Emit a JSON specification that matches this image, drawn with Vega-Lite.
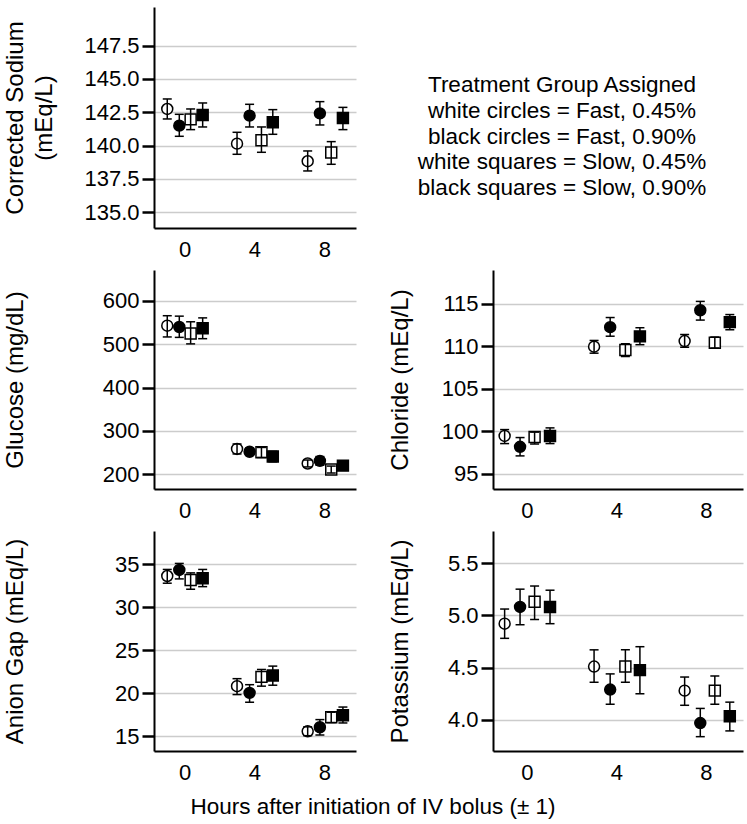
{
  "$schema": "https://vega.github.io/schema/vega-lite/v6.json",
  "padding": {"left": 3, "top": 7, "right": 2, "bottom": 0},
  "background": "white",
  "datasets": {
    "d": [
      {"p": "Na", "g": "Fast, 0.45%", "t": 0, "x": -1.0, "v": 142.75, "lo": 142.0, "hi": 143.5},
      {"p": "Na", "g": "Fast, 0.90%", "t": 0, "x": -0.31, "v": 141.5, "lo": 140.7, "hi": 142.35},
      {"p": "Na", "g": "Slow, 0.45%", "t": 0, "x": 0.34, "v": 141.97, "lo": 141.2, "hi": 142.75},
      {"p": "Na", "g": "Slow, 0.90%", "t": 0, "x": 1.03, "v": 142.3, "lo": 141.4, "hi": 143.2},
      {"p": "Na", "g": "Fast, 0.45%", "t": 4, "x": 3.0, "v": 140.15, "lo": 139.35, "hi": 141.0},
      {"p": "Na", "g": "Fast, 0.90%", "t": 4, "x": 3.72, "v": 142.25, "lo": 141.4, "hi": 143.1},
      {"p": "Na", "g": "Slow, 0.45%", "t": 4, "x": 4.4, "v": 140.4, "lo": 139.5, "hi": 141.4},
      {"p": "Na", "g": "Slow, 0.90%", "t": 4, "x": 5.05, "v": 141.75, "lo": 140.85, "hi": 142.7},
      {"p": "Na", "g": "Fast, 0.45%", "t": 8, "x": 7.05, "v": 138.83, "lo": 138.1, "hi": 139.6},
      {"p": "Na", "g": "Fast, 0.90%", "t": 8, "x": 7.75, "v": 142.42, "lo": 141.55, "hi": 143.3},
      {"p": "Na", "g": "Slow, 0.45%", "t": 8, "x": 8.4, "v": 139.48, "lo": 138.6, "hi": 140.3},
      {"p": "Na", "g": "Slow, 0.90%", "t": 8, "x": 9.07, "v": 142.07, "lo": 141.2, "hi": 142.87},

      {"p": "Glu", "g": "Fast, 0.45%", "t": 0, "x": -1.0, "v": 543, "lo": 517, "hi": 566},
      {"p": "Glu", "g": "Fast, 0.90%", "t": 0, "x": -0.31, "v": 540, "lo": 516, "hi": 565},
      {"p": "Glu", "g": "Slow, 0.45%", "t": 0, "x": 0.34, "v": 525, "lo": 501, "hi": 552},
      {"p": "Glu", "g": "Slow, 0.90%", "t": 0, "x": 1.03, "v": 537, "lo": 513, "hi": 561},
      {"p": "Glu", "g": "Fast, 0.45%", "t": 4, "x": 3.0, "v": 258.5, "lo": 247, "hi": 270},
      {"p": "Glu", "g": "Fast, 0.90%", "t": 4, "x": 3.72, "v": 252, "lo": 244, "hi": 260},
      {"p": "Glu", "g": "Slow, 0.45%", "t": 4, "x": 4.4, "v": 251, "lo": 239, "hi": 262},
      {"p": "Glu", "g": "Slow, 0.90%", "t": 4, "x": 5.05, "v": 241, "lo": 229, "hi": 253},
      {"p": "Glu", "g": "Fast, 0.45%", "t": 8, "x": 7.05, "v": 225, "lo": 217, "hi": 233},
      {"p": "Glu", "g": "Fast, 0.90%", "t": 8, "x": 7.75, "v": 231, "lo": 221, "hi": 241},
      {"p": "Glu", "g": "Slow, 0.45%", "t": 8, "x": 8.4, "v": 211, "lo": 203, "hi": 219},
      {"p": "Glu", "g": "Slow, 0.90%", "t": 8, "x": 9.07, "v": 220, "lo": 211, "hi": 229},

      {"p": "Cl", "g": "Fast, 0.45%", "t": 0, "x": -1.0, "v": 99.45, "lo": 98.55, "hi": 100.2},
      {"p": "Cl", "g": "Fast, 0.90%", "t": 0, "x": -0.31, "v": 98.17, "lo": 97.1, "hi": 99.26},
      {"p": "Cl", "g": "Slow, 0.45%", "t": 0, "x": 0.34, "v": 99.33, "lo": 98.5, "hi": 99.9},
      {"p": "Cl", "g": "Slow, 0.90%", "t": 0, "x": 1.03, "v": 99.45, "lo": 98.55, "hi": 100.4},
      {"p": "Cl", "g": "Fast, 0.45%", "t": 4, "x": 3.0, "v": 109.97, "lo": 109.2, "hi": 110.7},
      {"p": "Cl", "g": "Fast, 0.90%", "t": 4, "x": 3.72, "v": 112.27, "lo": 111.2, "hi": 113.4},
      {"p": "Cl", "g": "Slow, 0.45%", "t": 4, "x": 4.4, "v": 109.58, "lo": 108.8, "hi": 110.3},
      {"p": "Cl", "g": "Slow, 0.90%", "t": 4, "x": 5.05, "v": 111.18, "lo": 110.2, "hi": 112.2},
      {"p": "Cl", "g": "Fast, 0.45%", "t": 8, "x": 7.05, "v": 110.63, "lo": 109.9, "hi": 111.4},
      {"p": "Cl", "g": "Fast, 0.90%", "t": 8, "x": 7.75, "v": 114.26, "lo": 113.1, "hi": 115.3},
      {"p": "Cl", "g": "Slow, 0.45%", "t": 8, "x": 8.4, "v": 110.44, "lo": 109.8, "hi": 111.1},
      {"p": "Cl", "g": "Slow, 0.90%", "t": 8, "x": 9.07, "v": 112.86, "lo": 111.96, "hi": 113.75},

      {"p": "AG", "g": "Fast, 0.45%", "t": 0, "x": -1.0, "v": 33.64, "lo": 32.8, "hi": 34.4},
      {"p": "AG", "g": "Fast, 0.90%", "t": 0, "x": -0.31, "v": 34.34, "lo": 33.3, "hi": 35.1},
      {"p": "AG", "g": "Slow, 0.45%", "t": 0, "x": 0.34, "v": 33.17, "lo": 32.1, "hi": 34.0},
      {"p": "AG", "g": "Slow, 0.90%", "t": 0, "x": 1.03, "v": 33.37, "lo": 32.4, "hi": 34.4},
      {"p": "AG", "g": "Fast, 0.45%", "t": 4, "x": 3.0, "v": 20.83, "lo": 19.85, "hi": 21.7},
      {"p": "AG", "g": "Fast, 0.90%", "t": 4, "x": 3.72, "v": 20.05, "lo": 18.96, "hi": 21.0},
      {"p": "AG", "g": "Slow, 0.45%", "t": 4, "x": 4.4, "v": 21.91, "lo": 20.83, "hi": 22.77},
      {"p": "AG", "g": "Slow, 0.90%", "t": 4, "x": 5.05, "v": 22.07, "lo": 20.94, "hi": 23.16},
      {"p": "AG", "g": "Fast, 0.45%", "t": 8, "x": 7.05, "v": 15.58, "lo": 15.07, "hi": 16.1},
      {"p": "AG", "g": "Fast, 0.90%", "t": 8, "x": 7.75, "v": 16.05, "lo": 15.15, "hi": 16.94},
      {"p": "AG", "g": "Slow, 0.45%", "t": 8, "x": 8.4, "v": 17.22, "lo": 16.6, "hi": 17.8},
      {"p": "AG", "g": "Slow, 0.90%", "t": 8, "x": 9.07, "v": 17.45, "lo": 16.55, "hi": 18.4},

      {"p": "K", "g": "Fast, 0.45%", "t": 0, "x": -1.0, "v": 4.92, "lo": 4.78, "hi": 5.06},
      {"p": "K", "g": "Fast, 0.90%", "t": 0, "x": -0.31, "v": 5.08, "lo": 4.91, "hi": 5.25},
      {"p": "K", "g": "Slow, 0.45%", "t": 0, "x": 0.34, "v": 5.13, "lo": 4.96, "hi": 5.28},
      {"p": "K", "g": "Slow, 0.90%", "t": 0, "x": 1.03, "v": 5.08, "lo": 4.92, "hi": 5.24},
      {"p": "K", "g": "Fast, 0.45%", "t": 4, "x": 3.0, "v": 4.51, "lo": 4.36, "hi": 4.67},
      {"p": "K", "g": "Fast, 0.90%", "t": 4, "x": 3.72, "v": 4.29, "lo": 4.15, "hi": 4.44},
      {"p": "K", "g": "Slow, 0.45%", "t": 4, "x": 4.4, "v": 4.51, "lo": 4.36, "hi": 4.67},
      {"p": "K", "g": "Slow, 0.90%", "t": 4, "x": 5.05, "v": 4.476, "lo": 4.25, "hi": 4.7},
      {"p": "K", "g": "Fast, 0.45%", "t": 8, "x": 7.05, "v": 4.28, "lo": 4.14, "hi": 4.41},
      {"p": "K", "g": "Fast, 0.90%", "t": 8, "x": 7.75, "v": 3.97, "lo": 3.84, "hi": 4.11},
      {"p": "K", "g": "Slow, 0.45%", "t": 8, "x": 8.4, "v": 4.28, "lo": 4.15, "hi": 4.42},
      {"p": "K", "g": "Slow, 0.90%", "t": 8, "x": 9.07, "v": 4.035, "lo": 3.895, "hi": 4.17}
    ],
    "legend": [
      {"col": 0, "row": 0, "label": "Treatment Group Assigned"},
      {"col": 0, "row": 1, "label": "white circles = Fast, 0.45%"},
      {"col": 0, "row": 2, "label": "black circles = Fast, 0.90%"},
      {"col": 0, "row": 3, "label": "white squares = Slow, 0.45%"},
      {"col": 0, "row": 4, "label": "black squares = Slow, 0.90%"}
    ]
  },
  "title": {
    "text": "Hours after initiation of IV bolus (± 1)",
    "orient": "bottom",
    "anchor": "middle",
    "font": "Liberation Sans",
    "fontSize": 22.5,
    "fontWeight": "normal",
    "color": "black",
    "offset": 13
  },
  "spacing": 10,
  "vconcat": [
    {
      "spacing": 32,
      "hconcat": [
        {
          "width": 202, "height": 221,
          "data": {"name": "d"},
          "transform": [{"filter": "datum.p === 'Na'"}],
          "encoding": {
            "x": {"field": "x", "type": "quantitative", "scale": {"domain": [-1.76, 9.82], "nice": false, "zero": false},
                  "axis": {"values": [0, 4, 8], "ticks": false, "title": null, "labelPadding": 11, "grid": false, "domainColor": "black", "domainWidth": 2}}
          },
          "layer": [
            {
              "mark": {"type": "point", "filled": true, "stroke": "black", "strokeWidth": 1.5, "size": 120, "opacity": 1},
              "encoding": {
                "y": {"field": "v", "type": "quantitative", "scale": {"domain": [133.82, 150.4], "nice": false, "zero": false},
                      "axis": {"title": ["Corrected Sodium", "(mEq/L)"], "titleLineHeight": 29, "values": [135, 137.5, 140, 142.5, 145, 147.5], "format": ".1f", "titleX": -151, "titleBaseline": "top", "titleAngle": 270, "ticks": true, "tickSize": 12, "tickWidth": 2.5, "tickColor": "black", "tickOpacity": 1}},
                "shape": {"field": "g", "type": "nominal", "scale": {"domain": ["Fast, 0.45%", "Fast, 0.90%", "Slow, 0.45%", "Slow, 0.90%"], "range": ["circle", "circle", "square", "square"]}, "legend": null},
                "fill": {"field": "g", "type": "nominal", "scale": {"domain": ["Fast, 0.45%", "Fast, 0.90%", "Slow, 0.45%", "Slow, 0.90%"], "range": ["white", "black", "white", "black"]}, "legend": null}
              }
            },
            {"mark": {"type": "rule", "color": "black", "strokeWidth": 1.5}, "encoding": {"y": {"field": "lo", "type": "quantitative"}, "y2": {"field": "hi"}}},
            {"mark": {"type": "tick", "orient": "horizontal", "color": "black", "size": 9, "thickness": 1.5, "opacity": 1}, "encoding": {"y": {"field": "lo", "type": "quantitative"}}},
            {"mark": {"type": "tick", "orient": "horizontal", "color": "black", "size": 9, "thickness": 1.5, "opacity": 1}, "encoding": {"y": {"field": "hi", "type": "quantitative"}}}
          ]
        },
        {
          "width": 348, "height": 221,
          "data": {"name": "legend"},
          "mark": {"type": "text", "font": "Liberation Sans", "fontSize": 22.5, "align": "center", "baseline": "middle", "color": "black"},
          "encoding": {
            "x": {"field": "col", "type": "quantitative", "scale": {"domain": [-1, 1], "nice": false, "zero": false}, "axis": null},
            "y": {"field": "row", "type": "quantitative", "scale": {"domain": [-3.02, 5.54], "nice": false, "zero": false, "reverse": true}, "axis": null},
            "text": {"field": "label", "type": "nominal"}
          }
        }
      ]
    },
    {
      "spacing": 32,
      "hconcat": [
        {
          "width": 202, "height": 219,
          "data": {"name": "d"},
          "transform": [{"filter": "datum.p === 'Glu'"}],
          "encoding": {
            "x": {"field": "x", "type": "quantitative", "scale": {"domain": [-1.76, 9.82], "nice": false, "zero": false},
                  "axis": {"values": [0, 4, 8], "ticks": false, "title": null, "labelPadding": 11, "grid": false, "domainColor": "black", "domainWidth": 2}}
          },
          "layer": [
            {
              "mark": {"type": "point", "filled": true, "stroke": "black", "strokeWidth": 1.5, "size": 120, "opacity": 1},
              "encoding": {
                "y": {"field": "v", "type": "quantitative", "scale": {"domain": [166.1, 671.5], "nice": false, "zero": false},
                      "axis": {"title": "Glucose (mg/dL)", "values": [200, 300, 400, 500, 600], "titleX": -151, "titleBaseline": "top", "titleAngle": 270, "ticks": true, "tickSize": 12, "tickWidth": 2.5, "tickColor": "black", "tickOpacity": 1}},
                "shape": {"field": "g", "type": "nominal", "scale": {"domain": ["Fast, 0.45%", "Fast, 0.90%", "Slow, 0.45%", "Slow, 0.90%"], "range": ["circle", "circle", "square", "square"]}, "legend": null},
                "fill": {"field": "g", "type": "nominal", "scale": {"domain": ["Fast, 0.45%", "Fast, 0.90%", "Slow, 0.45%", "Slow, 0.90%"], "range": ["white", "black", "white", "black"]}, "legend": null}
              }
            },
            {"mark": {"type": "rule", "color": "black", "strokeWidth": 1.5}, "encoding": {"y": {"field": "lo", "type": "quantitative"}, "y2": {"field": "hi"}}},
            {"mark": {"type": "tick", "orient": "horizontal", "color": "black", "size": 9, "thickness": 1.5, "opacity": 1}, "encoding": {"y": {"field": "lo", "type": "quantitative"}}},
            {"mark": {"type": "tick", "orient": "horizontal", "color": "black", "size": 9, "thickness": 1.5, "opacity": 1}, "encoding": {"y": {"field": "hi", "type": "quantitative"}}}
          ]
        },
        {
          "width": 250, "height": 219,
          "data": {"name": "d"},
          "transform": [{"filter": "datum.p === 'Cl'"}],
          "encoding": {
            "x": {"field": "x", "type": "quantitative", "scale": {"domain": [-1.52, 9.66], "nice": false, "zero": false},
                  "axis": {"values": [0, 4, 8], "ticks": false, "title": null, "labelPadding": 11, "grid": false, "domainColor": "black", "domainWidth": 2}}
          },
          "layer": [
            {
              "mark": {"type": "point", "filled": true, "stroke": "black", "strokeWidth": 1.5, "size": 120, "opacity": 1},
              "encoding": {
                "y": {"field": "v", "type": "quantitative", "scale": {"domain": [93.2, 119.0], "nice": false, "zero": false},
                      "axis": {"title": "Chloride (mEq/L)", "values": [95, 100, 105, 110, 115], "titleX": -105, "titleBaseline": "top", "titleAngle": 270, "ticks": true, "tickSize": 12, "tickWidth": 2.5, "tickColor": "black", "tickOpacity": 1}},
                "shape": {"field": "g", "type": "nominal", "scale": {"domain": ["Fast, 0.45%", "Fast, 0.90%", "Slow, 0.45%", "Slow, 0.90%"], "range": ["circle", "circle", "square", "square"]}, "legend": null},
                "fill": {"field": "g", "type": "nominal", "scale": {"domain": ["Fast, 0.45%", "Fast, 0.90%", "Slow, 0.45%", "Slow, 0.90%"], "range": ["white", "black", "white", "black"]}, "legend": null}
              }
            },
            {"mark": {"type": "rule", "color": "black", "strokeWidth": 1.5}, "encoding": {"y": {"field": "lo", "type": "quantitative"}, "y2": {"field": "hi"}}},
            {"mark": {"type": "tick", "orient": "horizontal", "color": "black", "size": 9, "thickness": 1.5, "opacity": 1}, "encoding": {"y": {"field": "lo", "type": "quantitative"}}},
            {"mark": {"type": "tick", "orient": "horizontal", "color": "black", "size": 9, "thickness": 1.5, "opacity": 1}, "encoding": {"y": {"field": "hi", "type": "quantitative"}}}
          ]
        }
      ]
    },
    {
      "spacing": 32,
      "hconcat": [
        {
          "width": 202, "height": 220,
          "data": {"name": "d"},
          "transform": [{"filter": "datum.p === 'AG'"}],
          "encoding": {
            "x": {"field": "x", "type": "quantitative", "scale": {"domain": [-1.76, 9.82], "nice": false, "zero": false},
                  "axis": {"values": [0, 4, 8], "ticks": false, "title": null, "labelPadding": 11, "grid": false, "domainColor": "black", "domainWidth": 2}}
          },
          "layer": [
            {
              "mark": {"type": "point", "filled": true, "stroke": "black", "strokeWidth": 1.5, "size": 120, "opacity": 1},
              "encoding": {
                "y": {"field": "v", "type": "quantitative", "scale": {"domain": [13.29, 38.87], "nice": false, "zero": false},
                      "axis": {"title": "Anion Gap (mEq/L)", "values": [15, 20, 25, 30, 35], "titleX": -151, "titleBaseline": "top", "titleAngle": 270, "ticks": true, "tickSize": 12, "tickWidth": 2.5, "tickColor": "black", "tickOpacity": 1}},
                "shape": {"field": "g", "type": "nominal", "scale": {"domain": ["Fast, 0.45%", "Fast, 0.90%", "Slow, 0.45%", "Slow, 0.90%"], "range": ["circle", "circle", "square", "square"]}, "legend": null},
                "fill": {"field": "g", "type": "nominal", "scale": {"domain": ["Fast, 0.45%", "Fast, 0.90%", "Slow, 0.45%", "Slow, 0.90%"], "range": ["white", "black", "white", "black"]}, "legend": null}
              }
            },
            {"mark": {"type": "rule", "color": "black", "strokeWidth": 1.5}, "encoding": {"y": {"field": "lo", "type": "quantitative"}, "y2": {"field": "hi"}}},
            {"mark": {"type": "tick", "orient": "horizontal", "color": "black", "size": 9, "thickness": 1.5, "opacity": 1}, "encoding": {"y": {"field": "lo", "type": "quantitative"}}},
            {"mark": {"type": "tick", "orient": "horizontal", "color": "black", "size": 9, "thickness": 1.5, "opacity": 1}, "encoding": {"y": {"field": "hi", "type": "quantitative"}}}
          ]
        },
        {
          "width": 250, "height": 220,
          "data": {"name": "d"},
          "transform": [{"filter": "datum.p === 'K'"}],
          "encoding": {
            "x": {"field": "x", "type": "quantitative", "scale": {"domain": [-1.52, 9.66], "nice": false, "zero": false},
                  "axis": {"values": [0, 4, 8], "ticks": false, "title": null, "labelPadding": 11, "grid": false, "domainColor": "black", "domainWidth": 2}}
          },
          "layer": [
            {
              "mark": {"type": "point", "filled": true, "stroke": "black", "strokeWidth": 1.5, "size": 120, "opacity": 1},
              "encoding": {
                "y": {"field": "v", "type": "quantitative", "scale": {"domain": [3.703, 5.806], "nice": false, "zero": false},
                      "axis": {"title": "Potassium (mEq/L)", "values": [4.0, 4.5, 5.0, 5.5], "format": ".1f", "titleX": -105, "titleBaseline": "top", "titleAngle": 270, "ticks": true, "tickSize": 12, "tickWidth": 2.5, "tickColor": "black", "tickOpacity": 1}},
                "shape": {"field": "g", "type": "nominal", "scale": {"domain": ["Fast, 0.45%", "Fast, 0.90%", "Slow, 0.45%", "Slow, 0.90%"], "range": ["circle", "circle", "square", "square"]}, "legend": null},
                "fill": {"field": "g", "type": "nominal", "scale": {"domain": ["Fast, 0.45%", "Fast, 0.90%", "Slow, 0.45%", "Slow, 0.90%"], "range": ["white", "black", "white", "black"]}, "legend": null}
              }
            },
            {"mark": {"type": "rule", "color": "black", "strokeWidth": 1.5}, "encoding": {"y": {"field": "lo", "type": "quantitative"}, "y2": {"field": "hi"}}},
            {"mark": {"type": "tick", "orient": "horizontal", "color": "black", "size": 9, "thickness": 1.5, "opacity": 1}, "encoding": {"y": {"field": "lo", "type": "quantitative"}}},
            {"mark": {"type": "tick", "orient": "horizontal", "color": "black", "size": 9, "thickness": 1.5, "opacity": 1}, "encoding": {"y": {"field": "hi", "type": "quantitative"}}}
          ]
        }
      ]
    }
  ],
  "config": {
    "view": {"stroke": null},
    "font": "Liberation Sans",
    "axis": {
      "labelFont": "Liberation Sans",
      "titleFont": "Liberation Sans",
      "labelFontSize": 22,
      "titleFontSize": 24,
      "labelColor": "black",
      "titleColor": "black",
      "titleFontWeight": "normal",
      "domainColor": "black",
      "domainWidth": 2
    },
    "axisY": {
      "grid": true,
      "gridColor": "#cccccc",
      "gridWidth": 1.5,
      "labelPadding": 3,
      "labelFlush": false
    },
    "axisX": {
      "labelFlush": false
    }
  }
}
